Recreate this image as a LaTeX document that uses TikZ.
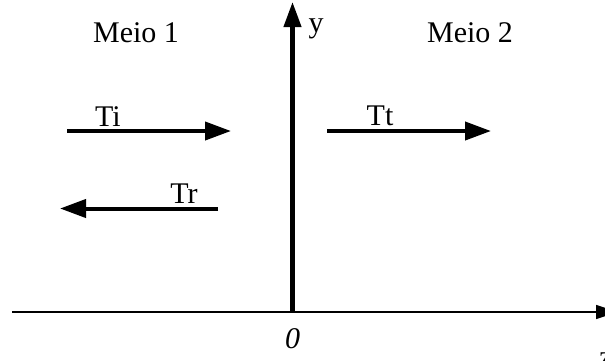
\documentclass[tikz,border=0pt]{standalone}
\usepackage{fontspec}
\setmainfont{Liberation Serif}
\usetikzlibrary{arrows.meta}
\begin{document}
\begin{tikzpicture}[x=1pt,y=-1pt,
  lbl/.style={inner sep=0pt,anchor=base,font=\fontsize{30}{36}\selectfont},
  bigarrow/.style={line width=4pt,-{Triangle[length=26pt,width=18pt]}},
  zaxis/.style={line width=1.3pt,-{Triangle[length=22pt,width=14pt]}}]
\useasboundingbox (0,0) rectangle (605,360);
% axes
\coordinate (zs) at (12,312);
\coordinate (ze) at (618,312);
\coordinate (ys) at (292.5,311);
\coordinate (ye) at (292.5,2);
\draw[zaxis] (zs) -- (ze);
\draw[line width=4.2pt,-{Triangle[length=25pt,width=17pt]}] (ys) -- (ye);
% labels
\node[lbl] (m1) at (136,42.5) {Meio 1};
\node[lbl] (m2) at (470,42.5) {Meio 2};
\node[lbl] (ylab) at (316,32) {y};
\node[lbl] (zlab) at (606,366) {z};
\node[lbl] (orig) at (292.5,348) {\itshape 0};
\node[lbl] (ti) at (108,126) {Ti};
\node[lbl] (tt) at (380,125) {Tt};
\node[lbl] (tr) at (184,203) {Tr};
% wave arrows
\coordinate (ti1) at (67,131);
\coordinate (ti2) at (231,131);
\coordinate (tt1) at (327,131);
\coordinate (tt2) at (491,131);
\coordinate (tr1) at (218,208.5);
\coordinate (tr2) at (60,208.5);
\draw[bigarrow] (ti1) -- (ti2);
\draw[bigarrow] (tt1) -- (tt2);
\draw[bigarrow] (tr1) -- (tr2);
\end{tikzpicture}
\end{document}
